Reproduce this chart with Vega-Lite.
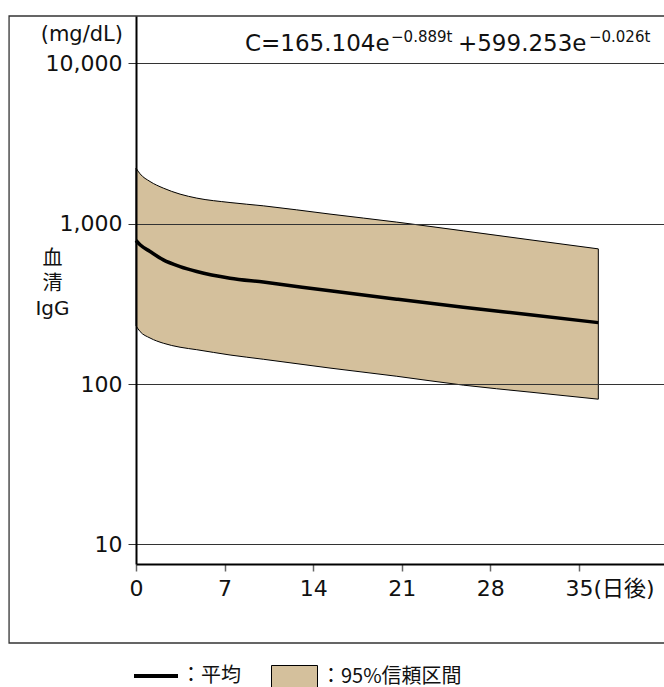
{
  "$schema": "https://vega.github.io/schema/vega-lite/v6.json",
  "autosize": "none",
  "width": 528,
  "height": 548,
  "padding": {"left": 136, "top": 16, "right": 0, "bottom": 123},
  "background": "white",
  "config": {"view": {"stroke": null}, "font": "DejaVu Sans, Noto Sans CJK JP"},
  "data": {
    "values": [
      {"t": 0, "upper": 2226, "mean": 787, "lower": 231},
      {"t": 0.32, "upper": 2051, "mean": 740, "lower": 213},
      {"t": 1.11, "upper": 1836, "mean": 672, "lower": 194},
      {"t": 2.16, "upper": 1670, "mean": 596, "lower": 180},
      {"t": 3.48, "upper": 1532, "mean": 541, "lower": 170},
      {"t": 4.8, "upper": 1447, "mean": 504, "lower": 164},
      {"t": 7.43, "upper": 1358, "mean": 458, "lower": 152},
      {"t": 10.06, "upper": 1295, "mean": 433, "lower": 143},
      {"t": 15.33, "upper": 1150, "mean": 382, "lower": 126},
      {"t": 20.6, "upper": 1025, "mean": 339, "lower": 112},
      {"t": 25.86, "upper": 904, "mean": 302, "lower": 98.6},
      {"t": 31.13, "upper": 795, "mean": 271, "lower": 89.2},
      {"t": 36.53, "upper": 698, "mean": 242, "lower": 80.6}
    ]
  },
  "layer": [
    {
      "data": {"values": [{}]},
      "mark": {"type": "rect", "fill": "transparent", "stroke": "#333", "strokeWidth": 1.3, "clip": false},
      "encoding": {
        "x": {"datum": -10.03},
        "x2": {"datum": 46},
        "y": {"datum": 19780},
        "y2": {"datum": 2.43}
      }
    },
    {
      "mark": {"type": "area", "stroke": "black", "strokeWidth": 1, "interpolate": "monotone"},
      "encoding": {
        "x": {
          "field": "t",
          "type": "quantitative",
          "scale": {"type": "linear", "domain": [0, 41.72], "nice": false, "zero": false},
          "axis": {
            "values": [0, 7, 14, 21, 28, 35],
            "title": null,
            "grid": false,
            "zindex": 1,
            "domainColor": "black",
            "domainWidth": 2,
            "tickColor": "#666",
            "tickSize": 7,
            "tickWidth": 1.5,
            "labelFontSize": 22,
            "labelColor": "#111",
            "labelPadding": 7,
            "labelFlush": false,
            "labelOverlap": false,
            "labelExpr": "datum.value == 35 ? '35(日後)' : datum.label",
            "labelAlign": {"condition": {"test": "datum.value == 35", "value": "left"}, "value": "center"},
            "labelOffset": {"condition": {"test": "datum.value == 35", "value": -14}, "value": 0}
          }
        },
        "y": {
          "field": "upper",
          "type": "quantitative",
          "scale": {"type": "log", "domain": [7.556, 19780], "nice": false},
          "axis": {
            "values": [10, 100, 1000, 10000],
            "format": ",",
            "grid": true,
            "zindex": 1,
            "gridColor": "#333",
            "gridWidth": 1,
            "domainColor": "black",
            "domainWidth": 2,
            "tickColor": "#333",
            "tickSize": 8,
            "labelFontSize": 22,
            "labelColor": "#111",
            "labelPadding": 6,
            "title": ["血", "清", "IgG"],
            "titleAngle": 0,
            "titleAlign": "center",
            "titleBaseline": "middle",
            "titleX": -84,
            "titleY": 242,
            "titleFontSize": 20,
            "titleFontWeight": "normal",
            "titleLineHeight": 25,
            "titleColor": "#111"
          }
        },
        "y2": {"field": "lower"},
        "fill": {
          "datum": "95%信頼区間",
          "type": "nominal",
          "scale": {"range": ["#D4C09C"]},
          "legend": {
            "orient": "none",
            "legendX": 135,
            "legendY": 637.5,
            "title": null,
            "padding": 0,
            "symbolType": "M-1,-0.5H1V0.5H-1Z",
            "symbolSize": 2116,
            "symbolStrokeColor": "black",
            "symbolStrokeWidth": 1,
            "labelExpr": "'：' + datum.label",
            "labelFontSize": 20,
            "labelOffset": 3,
            "labelColor": "#111",
            "labelFont": "Noto Sans CJK JP"
          }
        }
      }
    },
    {
      "mark": {"type": "line", "strokeWidth": 3.5, "interpolate": "monotone"},
      "encoding": {
        "x": {"field": "t", "type": "quantitative"},
        "y": {"field": "mean", "type": "quantitative"},
        "stroke": {
          "datum": "平均",
          "type": "nominal",
          "scale": {"range": ["black"]},
          "legend": {
            "orient": "none",
            "legendX": -4,
            "legendY": 636,
            "title": null,
            "padding": 0,
            "symbolType": "stroke",
            "symbolSize": 1936,
            "symbolStrokeWidth": 4,
            "labelExpr": "'：' + datum.label",
            "labelFontSize": 20,
            "labelOffset": 1,
            "labelColor": "#111",
            "labelFont": "Noto Sans CJK JP"
          }
        }
      }
    },
    {
      "data": {"values": [{}]},
      "mark": {"type": "text", "align": "right", "baseline": "alphabetic", "fontSize": 21, "color": "#111"},
      "encoding": {"x": {"datum": -1.03}, "y": {"datum": 13810}, "text": {"value": "(mg/dL)"}}
    },
    {
      "data": {"values": [{}]},
      "mark": {"type": "text", "align": "left", "baseline": "alphabetic", "fontSize": 23, "color": "#111"},
      "encoding": {"x": {"datum": 8.61}, "y": {"datum": 12017}, "text": {"value": "C=165.104e"}}
    },
    {
      "data": {"values": [{}]},
      "mark": {"type": "text", "align": "left", "baseline": "alphabetic", "fontSize": 15, "color": "#111"},
      "encoding": {"x": {"datum": 20.15}, "y": {"datum": 13677}, "text": {"value": "−0.889t"}}
    },
    {
      "data": {"values": [{}]},
      "mark": {"type": "text", "align": "left", "baseline": "alphabetic", "fontSize": 23, "color": "#111"},
      "encoding": {"x": {"datum": 25.44}, "y": {"datum": 12017}, "text": {"value": "+599.253e"}}
    },
    {
      "data": {"values": [{}]},
      "mark": {"type": "text", "align": "left", "baseline": "alphabetic", "fontSize": 15, "color": "#111"},
      "encoding": {"x": {"datum": 35.79}, "y": {"datum": 13677}, "text": {"value": "−0.026t"}}
    }
  ]
}
